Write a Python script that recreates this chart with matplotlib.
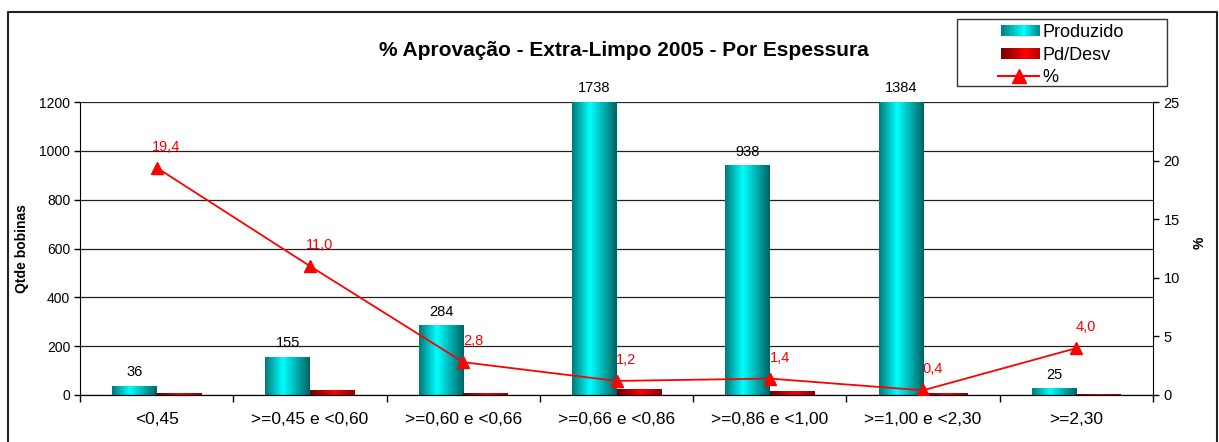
import matplotlib
matplotlib.use("Agg")
import matplotlib.pyplot as plt
import numpy as np
from matplotlib.colors import LinearSegmentedColormap
from matplotlib.patches import Rectangle
from matplotlib.lines import Line2D
from matplotlib.legend_handler import HandlerBase

plt.rcParams['font.family'] = ['Liberation Sans', 'DejaVu Sans']

categories = ["<0,45", ">=0,45 e <0,60", ">=0,60 e <0,66", ">=0,66 e <0,86",
              ">=0,86 e <1,00", ">=1,00 e <2,30", ">=2,30"]
produzido = [36, 155, 284, 1738, 938, 1384, 25]
pd_desv = [7, 17, 8, 21, 13, 6, 1]
percent = [19.4, 11.0, 2.8, 1.2, 1.4, 0.4, 4.0]
percent_labels = ["19,4", "11,0", "2,8", "1,2", "1,4", "0,4", "4,0"]

W, H = 1219, 442
fig = plt.figure(figsize=(W / 100, H / 100), dpi=100)
ax = fig.add_axes([80 / W, 1 - 395 / H, (1153 - 80) / W, (395 - 102) / H])
ax2 = ax.twinx()

cyan_cmap = LinearSegmentedColormap.from_list(
    "cy", [(0, "#007878"), (0.4, "#00ffff"), (1.0, "#006262")])
red_cmap = LinearSegmentedColormap.from_list(
    "rd", [(0, "#700000"), (0.55, "#ff0000"), (1.0, "#900000")])
grad = np.linspace(0, 1, 256).reshape(1, -1)

x = np.arange(len(categories))
bw = 0.29
ymax = 1200
bars1 = ax.bar(x - bw / 2, produzido, width=bw, color="none", linewidth=0)
bars2 = ax.bar(x + bw / 2, pd_desv, width=bw, color="none", linewidth=0)

for bars, cmap in ((bars1, cyan_cmap), (bars2, red_cmap)):
    for p in bars:
        x0, y0 = p.get_x(), p.get_y()
        w, h = p.get_width(), p.get_height()
        top = min(y0 + h, ymax)
        ax.imshow(grad, cmap=cmap, extent=(x0, x0 + w, y0, top),
                  aspect="auto", zorder=2, interpolation="bilinear")

ax.set_xlim(-0.5, len(categories) - 0.5)
ax.set_ylim(0, ymax)
ax.set_yticks(np.arange(0, 1201, 200))
ax.set_xticks(np.arange(-0.5, len(categories), 1.0), minor=False)
ax.set_xticklabels([])
ax.set_xticks(x, minor=True)
ax.set_xticklabels(categories, minor=True, fontsize=12.5)
ax.tick_params(axis="x", which="minor", length=0, pad=12)
ax.tick_params(axis="x", which="major", length=5, direction="out", width=1)
ax.tick_params(axis="y", length=4, direction="out", labelsize=10, width=1,
               pad=3)
ax.yaxis.grid(True, color="#222222", linewidth=0.9)
ax.set_axisbelow(True)
ax.spines["top"].set_visible(False)
ax.spines["right"].set_visible(False)
ax.set_ylabel("Qtde bobinas", fontsize=10, fontweight="bold")
ax.yaxis.set_label_coords((29 - 80) / 1073, 0.5)

for i, v in enumerate(produzido):
    ax.annotate(str(v), (x[i] - bw / 2, min(v, ymax)), xytext=(0, 5),
                textcoords="offset points", ha="center", va="bottom",
                fontsize=10.5, annotation_clip=False)

ax2.plot(x, percent, color="#ff0000", linewidth=1.3, marker="^",
         markersize=9, markerfacecolor="#ff0000", markeredgecolor="#ff0000",
         zorder=5)
ax2.set_ylim(0, 25)
ax2.set_yticks(np.arange(0, 26, 5))
ax2.tick_params(axis="y", length=4, direction="out", labelsize=10.5, width=1)
ax2.spines["top"].set_visible(False)
ax2.spines["left"].set_visible(False)
ax2.set_ylabel("%", fontsize=10, fontweight="bold")
ax2.yaxis.set_label_coords((1193 - 80) / 1073, 0.52)
for i, v in enumerate(percent):
    ax2.annotate(percent_labels[i], (x[i], v), xytext=(7, 10),
                 textcoords="offset points", ha="center", va="bottom",
                 fontsize=10.5, color="#ff0000", annotation_clip=False)

fig.text(624 / W, 1 - 50 / H, "% Aprovação - Extra-Limpo 2005 - Por Espessura",
         ha="center", va="center", fontsize=15, fontweight="bold")


class RightPatchHandler(HandlerBase):
    def __init__(self, cmap=None, line=False, seg=28):
        super().__init__()
        self.cmap = cmap
        self.line = line
        self.seg = seg

    def create_artists(self, legend, orig_handle, xdescent, ydescent, width,
                       height, fontsize, trans):
        seg = self.seg
        xs = width - seg - xdescent
        arts = []
        if self.line:
            yc = height / 2 - ydescent
            arts.append(Line2D([xs - 2, width - xdescent], [yc, yc],
                               color="#ff0000", linewidth=1.5, transform=trans))
            arts.append(Line2D([xs + (seg - 2) / 2], [yc], color="#ff0000",
                               marker="^", markersize=10, linestyle="none",
                               transform=trans))
            return arts
        n = 24
        h = height * 0.8
        y0 = -ydescent + (height - h) / 2
        for k in range(n):
            r = Rectangle((xs + seg * k / n, y0), seg / n + 0.3, h,
                          facecolor=self.cmap((k + 0.5) / n),
                          edgecolor="none", transform=trans)
            arts.append(r)
        return arts


h1 = Rectangle((0, 0), 1, 1)
h2 = Rectangle((0, 0), 1, 1)
h3 = Line2D([], [], color="#ff0000")
leg_cy = LinearSegmentedColormap.from_list(
    "lc", [(0, "#007878"), (0.6, "#00ffff"), (1.0, "#008888")])
leg_rd = LinearSegmentedColormap.from_list(
    "lr", [(0, "#700000"), (0.65, "#ff0000"), (1.0, "#b00000")])
leg = fig.legend([h1, h2, h3], ["Produzido", "Pd/Desv", "%"],
                 handler_map={h1: RightPatchHandler(leg_cy),
                              h2: RightPatchHandler(leg_rd),
                              h3: RightPatchHandler(line=True)},
                 loc="upper left", bbox_to_anchor=(960 / W, 1 - 24 / H),
                 fontsize=13, frameon=False, borderpad=0.0,
                 labelspacing=0.3, handlelength=4.4, handleheight=0.8,
                 handletextpad=0.15, borderaxespad=0)
# legend frame
fig.add_artist(Rectangle((957 / W, 1 - 86 / H), (1167 - 957) / W, (86 - 19) / H,
                         transform=fig.transFigure, facecolor="none",
                         edgecolor="#333333", linewidth=1.0))

# outer border (left, top, right)
bx0, bx1, by = 8 / W, 1217 / W, 1 - 12 / H
fig.add_artist(Line2D([bx0, bx0, bx1, bx1], [0, by, by, 0],
                      transform=fig.transFigure, color="#222222", linewidth=1.5))

fig.savefig("out.png", dpi=100)
